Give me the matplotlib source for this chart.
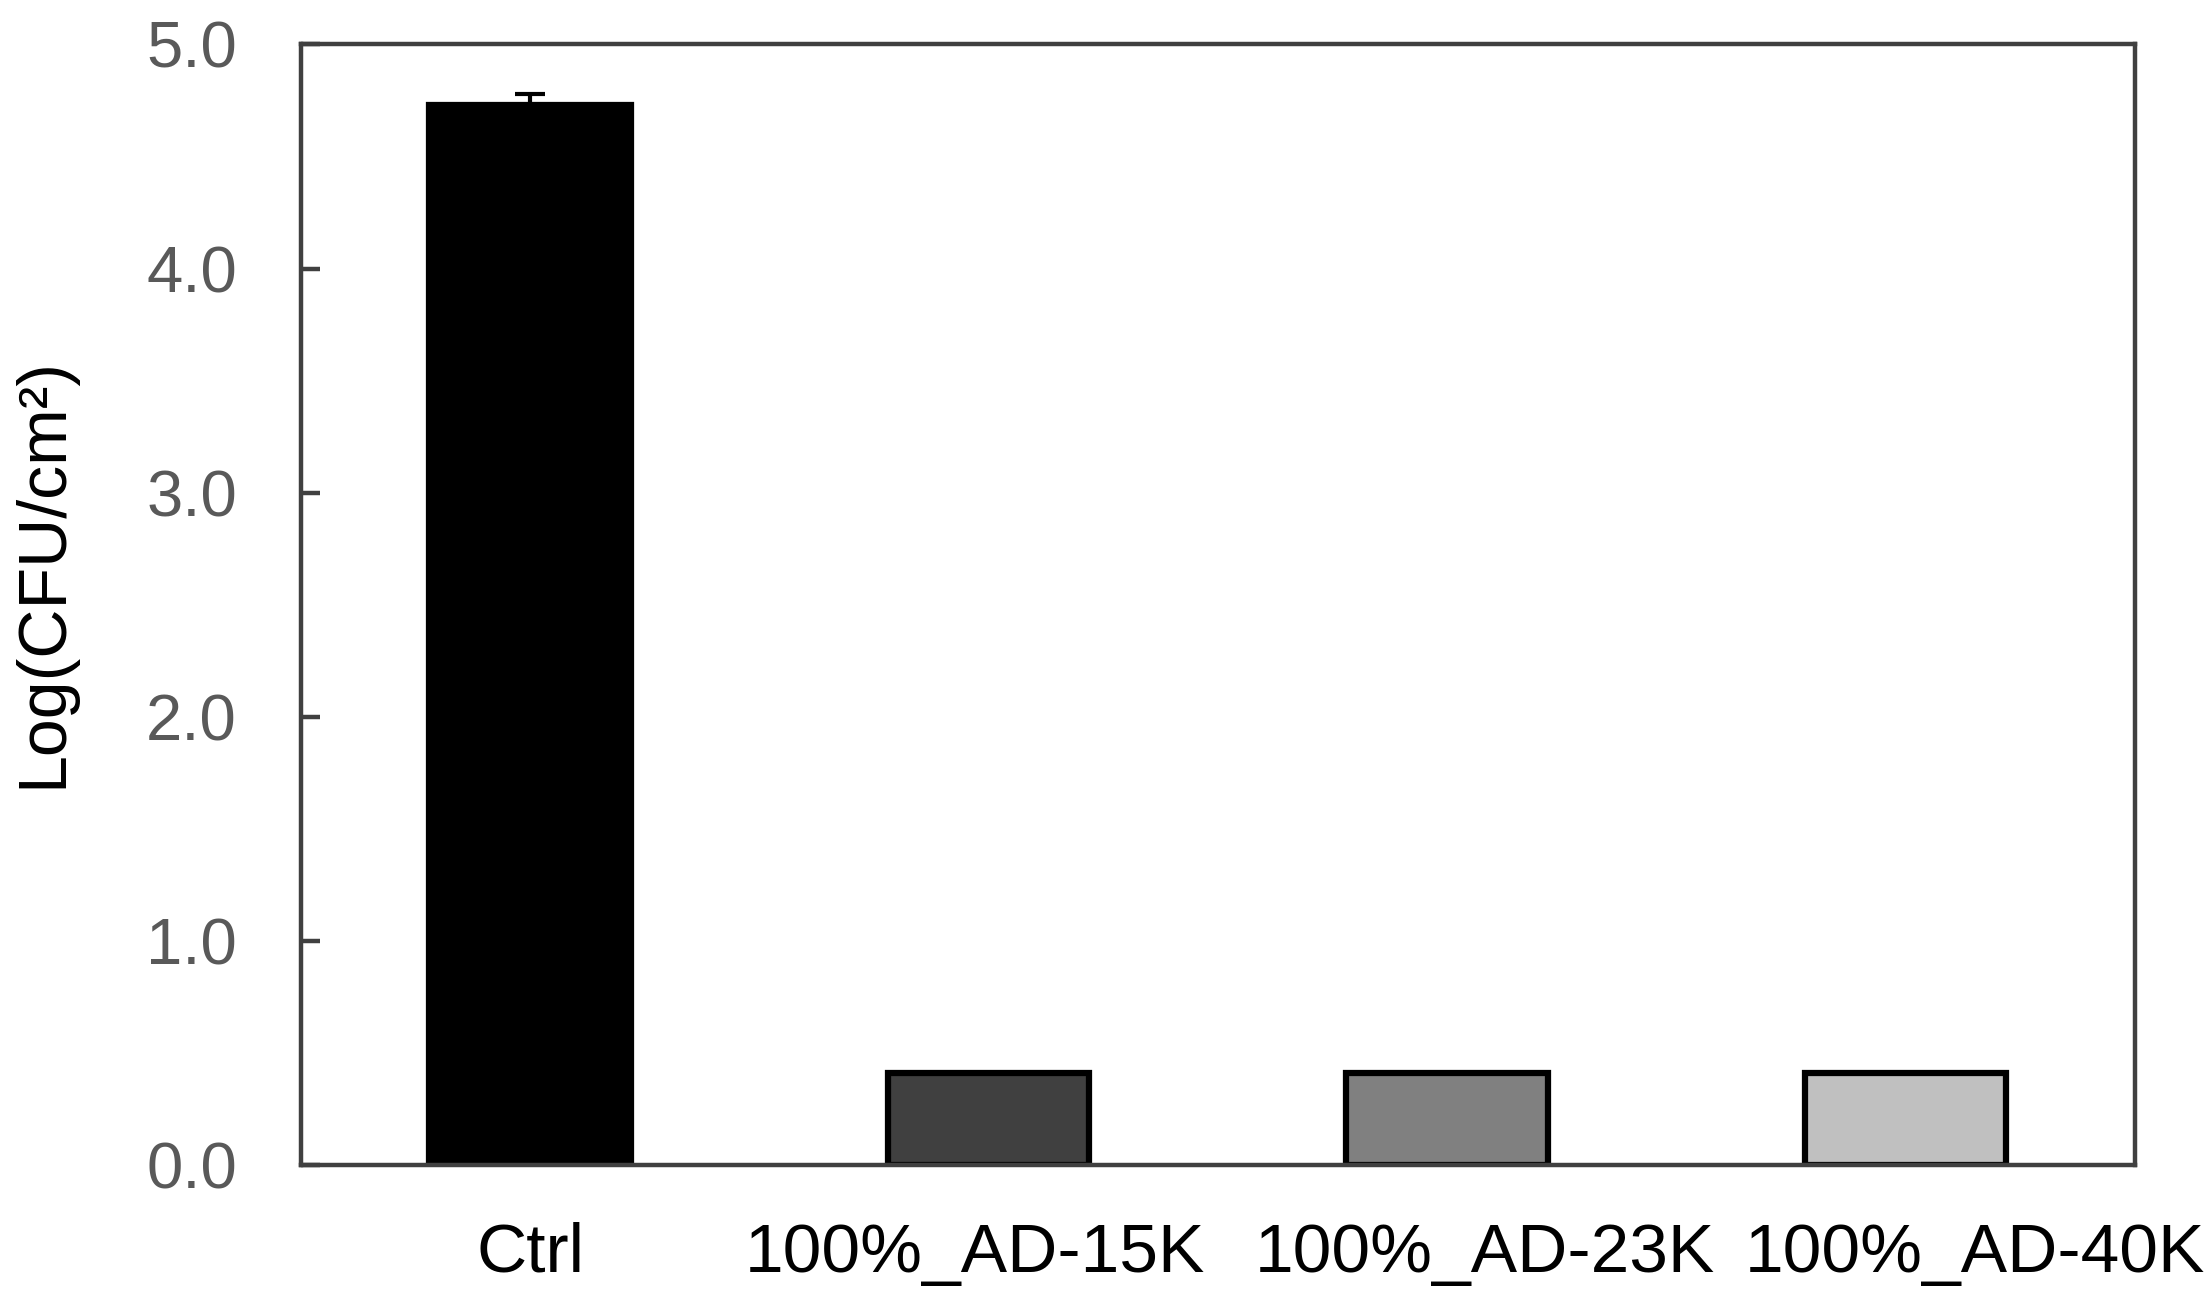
import matplotlib
matplotlib.use("Agg")
import matplotlib.pyplot as plt
import matplotlib.transforms as mtransforms

# data
groups = ["Ctrl", "100%_AD-15K", "100%_AD-23K", "100%_AD-40K"]
log_cfu = [4.73, 0.41, 0.41, 0.41]
err = [0.05, 0, 0, 0]
colors = ["#000000", "#404040", "#808080", "#c0c0c0"]
# the long labels are spread apart in the original (points)
label_shift = [0, -10, 27, 50]

plt.rcParams["font.family"] = ["Liberation Sans", "DejaVu Sans"]

fig = plt.figure(figsize=(22.12, 13.06), dpi=100)
ax = fig.add_axes([0.136, 0.108, 0.829, 0.858])

x = range(len(groups))
ax.bar(x, log_cfu, width=0.44, color=colors, edgecolor="black", linewidth=4.5, zorder=2)
ax.errorbar([0], log_cfu[:1], yerr=[[0], err[:1]], fmt="none", ecolor="black",
            elinewidth=3, capsize=11, capthick=3, zorder=3)

ax.set_xlim(-0.5, 3.5)
ax.set_ylim(0, 5.0)
ax.set_yticks([0, 1, 2, 3, 4, 5])
ax.set_yticklabels([f"{v:.1f}" for v in [0, 1, 2, 3, 4, 5]])
ax.set_xticks(list(x))
ax.set_xticklabels(groups)

for s in ax.spines.values():
    s.set_color("#404040")
    s.set_linewidth(3.2)

ax.tick_params(axis="y", direction="in", length=14, width=3.2, color="#404040",
               labelsize=47, labelcolor="#595959", pad=46)
ax.tick_params(axis="x", length=0, labelsize=50, labelcolor="black", pad=41)

for lab, dx in zip(ax.get_xticklabels(), label_shift):
    off = mtransforms.ScaledTranslation(dx / 72, 0, fig.dpi_scale_trans)
    lab.set_transform(lab.get_transform() + off)

ax.set_ylabel("Log(CFU/cm²)", fontsize=49, color="black")
ax.yaxis.set_label_coords(-0.123, 0.529)

fig.savefig("out.png", dpi=100)
